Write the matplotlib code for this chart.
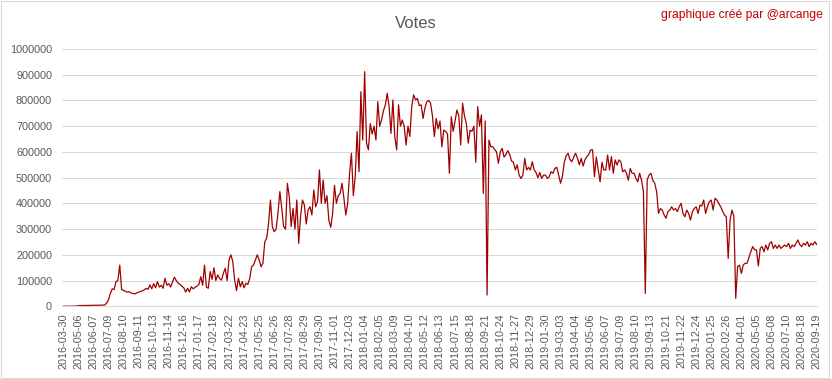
import numpy as np
import matplotlib

matplotlib.use('agg')
from matplotlib import pyplot as plt
from matplotlib.patches import Rectangle

# category labels shown every 32 days on the x axis
tick_labels = ['2016-03-30', '2016-05-06', '2016-06-07', '2016-07-09', '2016-08-10',
               '2016-09-11', '2016-10-13', '2016-11-14', '2016-12-16', '2017-01-17',
               '2017-02-18', '2017-03-22', '2017-04-23', '2017-05-25', '2017-06-26',
               '2017-07-28', '2017-08-29', '2017-09-30', '2017-11-01', '2017-12-03',
               '2018-01-04', '2018-02-05', '2018-03-09', '2018-04-10', '2018-05-12',
               '2018-06-13', '2018-07-15', '2018-08-18', '2018-09-21', '2018-10-24',
               '2018-11-27', '2018-12-29', '2019-01-30', '2019-03-03', '2019-04-04',
               '2019-05-06', '2019-06-07', '2019-07-09', '2019-08-10', '2019-09-13',
               '2019-10-21', '2019-11-22', '2019-12-24', '2020-01-25', '2020-02-26',
               '2020-04-01', '2020-05-05', '2020-06-08', '2020-07-10', '2020-08-18',
               '2020-09-19']

# votes, 8 samples between two labels (every 4 days)
samples_per_label = 8
votes = [
    200, 300, 300, 400, 400, 500, 600, 800,                                  # 2016-03-30
    2500, 3000, 3000, 3000, 3200, 3500, 3500, 3800,                          # 2016-05-06
    4000, 4000, 4000, 4200, 4500, 4500, 5000, 12000,                         # 2016-06-07
    25000, 50000, 68000, 65000, 96000, 100000, 160000, 65000,                # 2016-07-09
    62000, 58000, 55000, 57000, 52000, 50000, 48000, 52000,                  # 2016-08-10
    55000, 58000, 60000, 64000, 70000, 66000, 83000, 68000,                  # 2016-09-11
    88000, 72000, 96000, 75000, 82000, 70000, 109000, 82000,                 # 2016-10-13
    88000, 75000, 95000, 113000, 100000, 90000, 85000, 78000,                # 2016-11-14
    72000, 55000, 70000, 56000, 76000, 68000, 74000, 78000,                  # 2016-12-16
    85000, 115000, 82000, 160000, 75000, 70000, 135000, 105000,              # 2017-01-17
    150000, 100000, 122000, 108000, 102000, 128000, 148000, 100000,          # 2017-02-18
    180000, 200000, 174000, 102000, 61000, 109000, 76000, 96000,             # 2017-03-22
    72000, 90000, 85000, 108000, 154000, 160000, 180000, 200000,             # 2017-04-23
    180000, 154000, 168000, 251000, 265000, 322000, 413000, 310000,          # 2017-05-25
    290000, 300000, 363000, 446000, 381000, 310000, 300000, 478000,          # 2017-06-26
    426000, 310000, 380000, 300000, 413000, 245000, 350000, 413000,          # 2017-07-28
    394000, 320000, 374000, 387000, 355000, 452000, 387000, 407000,          # 2017-08-29
    530000, 400000, 491000, 400000, 430000, 335000, 307000, 360000,          # 2017-09-30
    470000, 400000, 430000, 439000, 478000, 420000, 355000, 400000,          # 2017-11-01
    517000, 595000, 430000, 504000, 679000, 523000, 834000, 646000,          # 2017-12-03
    912000, 634000, 608000, 710000, 670000, 700000, 646000, 795000,          # 2018-01-04
    700000, 725000, 760000, 783000, 828000, 776000, 672000, 802000,          # 2018-02-05
    660000, 608000, 783000, 700000, 724000, 700000, 627000, 700000,          # 2018-03-09
    660000, 776000, 822000, 802000, 808000, 780000, 783000, 730000,          # 2018-04-10
    770000, 795000, 800000, 790000, 740000, 660000, 730000, 690000,          # 2018-05-12
    720000, 620000, 685000, 680000, 670000, 517000, 737000, 680000,          # 2018-06-13
    720000, 763000, 740000, 627000, 789000, 740000, 710000, 634000,          # 2018-07-15
    685000, 680000, 700000, 560000, 776000, 700000, 744000, 439000,          # 2018-08-18
    720000, 44000, 646000, 620000, 620000, 610000, 600000, 556000,           # 2018-09-21
    600000, 614000, 580000, 590000, 605000, 590000, 565000, 560000,          # 2018-10-24
    530000, 550000, 510000, 497000, 510000, 575000, 530000, 540000,          # 2018-11-27
    530000, 562000, 530000, 520000, 500000, 520000, 497000, 510000,          # 2018-12-29
    510000, 497000, 504000, 523000, 517000, 536000, 540000, 510000,          # 2019-01-30
    478000, 505000, 560000, 585000, 595000, 570000, 562000, 580000,          # 2019-03-03
    595000, 575000, 550000, 575000, 545000, 570000, 582000, 590000,          # 2019-04-04
    608000, 608000, 504000, 580000, 530000, 484000, 560000, 530000,          # 2019-05-06
    530000, 588000, 530000, 582000, 517000, 569000, 549000, 569000,          # 2019-06-07
    562000, 523000, 530000, 517000, 490000, 536000, 517000, 517000,          # 2019-07-09
    497000, 484000, 517000, 490000, 446000, 50000, 491000, 510000,           # 2019-08-10
    517000, 490000, 478000, 446000, 361000, 380000, 374000, 355000,          # 2019-09-13
    342000, 368000, 374000, 387000, 374000, 380000, 368000, 387000,          # 2019-10-21
    400000, 361000, 348000, 374000, 361000, 335000, 368000, 380000,          # 2019-11-22
    387000, 361000, 393000, 390000, 413000, 361000, 387000, 407000,          # 2019-12-24
    413000, 374000, 420000, 413000, 400000, 387000, 370000, 355000,          # 2020-01-25
    348000, 186000, 335000, 374000, 350000, 31000, 154000, 160000,           # 2020-02-26
    128000, 161000, 167000, 167000, 190000, 212000, 232000, 220000,          # 2020-04-01
    219000, 157000, 225000, 232000, 212000, 238000, 219000, 245000,          # 2020-05-05
    251000, 225000, 238000, 225000, 238000, 225000, 232000, 238000,          # 2020-06-08
    232000, 245000, 225000, 238000, 232000, 245000, 258000, 240000,          # 2020-07-10
    232000, 245000, 238000, 251000, 232000, 245000, 238000, 251000,          # 2020-08-18
    240000,                                                                  # 2020-09-19
]

plt.rcParams['font.family'] = 'Liberation Sans'
grey = '#595959'
grid_grey = '#D9D9D9'

fig = plt.figure(figsize=(8.32, 3.79), dpi=100)
ax = fig.add_axes([0.0742, 0.1918, 0.9078, 0.6789])

x = np.arange(len(votes)) / samples_per_label
ax.plot(x, votes, color='#A00000', lw=0.9)

ax.set_ylim(0, 1000000)
ax.set_yticks(np.arange(0, 1000001, 100000))
ax.yaxis.set_major_formatter(lambda v, p: f'{v:.0f}')
ax.set_xlim(-0.1, 50.02)
ax.set_xticks(np.arange(len(tick_labels)))
ax.set_xticklabels(tick_labels, rotation=90)
ax.tick_params(axis='both', length=0, labelsize=7.8, colors=grey)
ax.tick_params(axis='x', pad=5)
ax.tick_params(axis='y', pad=7)
ax.grid(axis='y', color=grid_grey, lw=0.75)
ax.set_axisbelow(True)
for s in ['top', 'right', 'left']:
    ax.spines[s].set_visible(False)
ax.spines['bottom'].set_color(grid_grey)

fig.text(0.5, 1 - 23 / 379, 'Votes', ha='center', va='center', fontsize=12, color=grey)
fig.text(823 / 832, 1 - 15 / 379, 'graphique créé par @arcange', ha='right', va='center',
         fontsize=8.7, color='#C00000')

# light border around the whole chart
fig.patches.append(Rectangle((1 / 832, 1 - 377.5 / 379), 827.5 / 832, 376.5 / 379,
                             transform=fig.transFigure, fill=False, ec=grid_grey, lw=0.75))

fig.savefig('out.png', dpi=100)
